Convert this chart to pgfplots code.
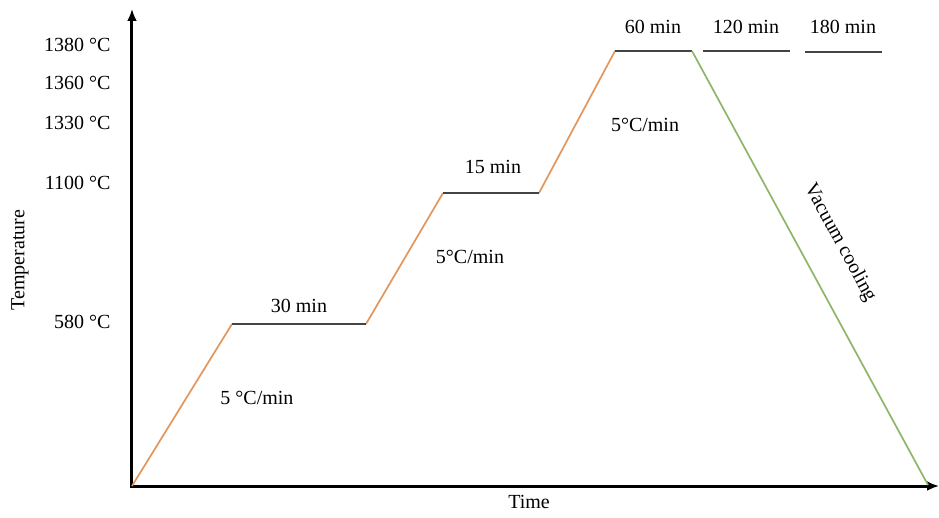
\documentclass[border=0pt]{standalone}
\usepackage{pgfplots}
\pgfplotsset{compat=1.18}
\usepackage{fontspec}
\setmainfont{Liberation Serif}
\usetikzlibrary{arrows.meta}
\definecolor{ramp}{RGB}{226,150,92}
\definecolor{cool}{RGB}{142,182,104}
\definecolor{hold}{RGB}{68,68,68}
\begin{document}
\begin{tikzpicture}
\begin{axis}[
  x=1pt, y=1pt,
  xmin=0, xmax=807, ymin=0, ymax=476,
  axis lines=left,
  axis line style={draw=none},
  clip=false,
  xtick=\empty,
  ytick={164,303,363,403,441},
  yticklabels={580 °C,1100 °C,1330 °C,1360 °C,1380 °C},
  major tick length=0pt,
  yticklabel style={anchor=east, xshift=-18pt, font=\fontsize{20}{24}\selectfont},
  /pgf/number format/assume math mode=true,
  every axis plot/.append style={line cap=butt},
]
\useasboundingbox (axis cs:-132,-31) rectangle (axis cs:807,486);
\draw[black, line width=3pt, -{Latex[length=12pt,width=10pt]}] (axis cs:-1.5,0) -- (axis cs:807,0);
\draw[black, line width=3pt, -{Latex[length=12pt,width=10pt]}] (axis cs:0,-1.5) -- (axis cs:0,477);
% heating ramps
\addplot[ramp, line width=1.7pt] coordinates {(0,0) (100,162)};
\addplot[ramp, line width=1.7pt] coordinates {(234,162) (311,293)};
\addplot[ramp, line width=1.7pt] coordinates {(407,293) (483,435)};
% holds
\addplot[hold, line width=2.8pt] coordinates {(100,162) (234,162)};
\addplot[hold, line width=2.8pt] coordinates {(311,293) (407,293)};
\addplot[hold, line width=2.8pt] coordinates {(483,435) (560,435)};
\addplot[hold, line width=2.8pt] coordinates {(571,435) (658,435)};
\addplot[hold, line width=2.8pt] coordinates {(673,434) (750,434)};
% cooling
\addplot[cool, line width=1.7pt] coordinates {(560,435) (796,1)};
% labels
\begin{scope}[every node/.style={font=\fontsize{20}{24}\selectfont}]
\node at (axis cs:167,180) {30 min};
\node at (axis cs:361,319) {15 min};
\node at (axis cs:521,459) {60 min};
\node at (axis cs:614,459) {120 min};
\node at (axis cs:711,459) {180 min};
\node at (axis cs:125,88) {5 °C/min};
\node at (axis cs:338,229) {5°C/min};
\node at (axis cs:513,361) {5°C/min};
\node[rotate=-61.5] at (axis cs:708,243) {Vacuum cooling};
\node[rotate=90] at (axis cs:-112,226) {Temperature};
\node at (axis cs:397,-16) {Time};
\end{scope}
\end{axis}
\end{tikzpicture}
\end{document}
